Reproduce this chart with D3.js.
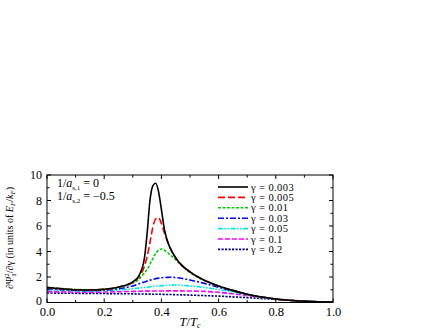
<!DOCTYPE html>
<html><head><meta charset="utf-8">
<script src="https://cdn.jsdelivr.net/npm/d3@7"></script>
<style>
html,body{margin:0;padding:0;background:#fff;}
text{font-family:"Liberation Serif","Times New Roman",serif;}
</style></head>
<body>
<script>
const tGrid = [0,0.05,0.1,0.15,0.2,0.25,0.3,0.32,0.34,0.35,0.36,0.37,0.38,0.39,0.40,0.41,0.42,0.43,0.45,0.47,0.5,0.55,0.6,0.65,0.7,0.8,0.9,1.0];
const g0003 = [1.18,1.08,1.0,0.98,1.04,1.22,1.62,2.05,3.4,5.4,8.0,9.15,9.35,8.7,7.3,5.8,4.9,4.3,3.5,2.95,2.4,1.75,1.3,0.95,0.65,0.28,0.1,0.03];
const g0005 = [1.18,1.08,1.0,0.98,1.03,1.2,1.58,1.95,2.8,3.6,4.7,5.9,6.55,6.65,6.2,5.5,4.85,4.3,3.5,2.95,2.4,1.75,1.3,0.95,0.65,0.28,0.1,0.03];
const g001  = [1.2,1.1,1.02,1.0,1.03,1.18,1.52,1.8,2.3,2.6,3.0,3.45,3.85,4.1,4.2,4.12,3.95,3.75,3.35,2.9,2.35,1.72,1.28,0.93,0.64,0.27,0.1,0.03];
const g003  = [1.1,1.02,0.96,0.95,0.98,1.08,1.3,1.45,1.6,1.68,1.75,1.82,1.87,1.91,1.94,1.96,1.97,1.98,1.96,1.9,1.76,1.5,1.2,0.9,0.63,0.27,0.1,0.03];
const g005  = [1.0,0.95,0.9,0.89,0.92,0.98,1.08,1.13,1.18,1.2,1.23,1.26,1.28,1.3,1.32,1.33,1.35,1.36,1.37,1.35,1.3,1.18,1.02,0.82,0.6,0.27,0.1,0.03];
const g01   = [0.86,0.84,0.82,0.81,0.82,0.84,0.87,0.88,0.89,0.89,0.9,0.9,0.9,0.9,0.9,0.91,0.91,0.91,0.91,0.91,0.9,0.87,0.8,0.68,0.54,0.27,0.1,0.03];
const g02   = [0.75,0.73,0.72,0.71,0.7,0.69,0.68,0.67,0.67,0.66,0.66,0.65,0.65,0.65,0.64,0.64,0.63,0.63,0.61,0.6,0.58,0.54,0.5,0.44,0.38,0.24,0.1,0.03];
const seriesNames = ["γ = 0.003","γ = 0.005","γ = 0.01","γ = 0.03","γ = 0.05","γ = 0.1","γ = 0.2"];
const seriesValues = [g0003,g0005,g001,g003,g005,g01,g02];
const colors = ["#000000","#ff0000","#00cc00","#0000ff","#00e5e5","#ff00ff","#000080"];
const dashes = ["none","7,3","3,1.5","6,2,2,2","5,1.5,1.5,1.5,1.5,1.5","5,2","2.2,1.3"];
const xTicks = [0,0.2,0.4,0.6,0.8,1.0];
const yTicks = [0,2,4,6,8,10];

const W=422,H=332;
const svg=d3.select("body").append("svg").attr("width",W).attr("height",H);
const x=d3.scaleLinear().domain([0,1]).range([47,333]);
const y=d3.scaleLinear().domain([0,10]).range([302.5,175]);

const line=d3.line().x(d=>x(d[0])).y(d=>y(d[1])).curve(d3.curveMonotoneX);
svg.append("clipPath").attr("id","c").append("rect").attr("x",47).attr("y",175).attr("width",286).attr("height",127.5);
const plot=svg.append("g").attr("clip-path","url(#c)");
seriesValues.slice().reverse().forEach((vals,ri)=>{
  const i=seriesValues.length-1-ri;
  plot.append("path").datum(tGrid.map((t,k)=>[t,vals[k]]))
    .attr("d",line).attr("fill","none").attr("stroke",colors[i])
    .attr("stroke-width",1.6).attr("stroke-dasharray",dashes[i]);
});

// frame
svg.append("rect").attr("x",47).attr("y",175).attr("width",286).attr("height",127.5)
  .attr("fill","none").attr("stroke","#000").attr("stroke-width",1);

// inward ticks on all sides
const xMinor=d3.range(0,1.0001,0.1);
const yMinor=d3.range(0,10.0001,1);
const ax=svg.append("g").attr("stroke","#000").attr("stroke-width",1);
xMinor.forEach(v=>{
  const major=Math.abs(v*5-Math.round(v*5))<1e-6;
  const L=major?4:2.5;
  ax.append("line").attr("x1",x(v)).attr("x2",x(v)).attr("y1",302.5).attr("y2",302.5-L);
  ax.append("line").attr("x1",x(v)).attr("x2",x(v)).attr("y1",175).attr("y2",175+L);
});
yMinor.forEach(v=>{
  const major=Math.round(v)%2===0;
  const L=major?4:2.5;
  ax.append("line").attr("x1",47).attr("x2",47+L).attr("y1",y(v)).attr("y2",y(v));
  ax.append("line").attr("x1",333).attr("x2",333-L).attr("y1",y(v)).attr("y2",y(v));
});
const xAxis=d3.axisBottom(x).tickValues(xTicks).tickSize(0).tickPadding(5).tickFormat(d3.format(".1f"));
const gx=svg.append("g").attr("transform","translate(0,302.5)").call(xAxis);
gx.select(".domain").remove();
gx.selectAll("text").attr("font-size","12.5px").attr("font-family","Liberation Serif").attr("fill","#000");
const yAxis=d3.axisLeft(y).tickValues(yTicks).tickSize(0).tickPadding(5).tickFormat(d3.format("d"));
const gy=svg.append("g").attr("transform","translate(47,0)").call(yAxis);
gy.select(".domain").remove();
gy.selectAll("text").attr("font-size","12px").attr("font-family","Liberation Serif").attr("fill","#000")
  .attr("dy",(d)=>d===0?"0.2em":"0.32em");

// x title
const xt=svg.append("text").attr("x",190).attr("y",326).attr("text-anchor","middle").attr("font-size","12.5px");
xt.append("tspan").attr("font-style","italic").text("T");
xt.append("tspan").text("/");
xt.append("tspan").attr("font-style","italic").text("T");
xt.append("tspan").attr("font-style","italic").attr("font-size","8px").attr("dy",2).text("c");

// y title
const yt=svg.append("text").attr("transform","translate(13,238) rotate(-90)").attr("text-anchor","middle").attr("font-size","10px");
yt.append("tspan").text("∂Ψ");
yt.append("tspan").attr("font-size","7px").attr("dy",-4).text("2");
yt.append("tspan").attr("font-size","7px").attr("dx",-3.5).attr("dy",7).text("1");
yt.append("tspan").attr("dy",-3).text("/∂γ (in units of ");
yt.append("tspan").attr("font-style","italic").text("E");
yt.append("tspan").attr("font-style","italic").attr("font-size","7px").attr("dy",2).text("F");
yt.append("tspan").attr("dy",-2).text("/");
yt.append("tspan").attr("font-style","italic").text("k");
yt.append("tspan").attr("font-style","italic").attr("font-size","7px").attr("dy",2).text("F");
yt.append("tspan").attr("dy",-2).text(")");

// annotation
const annLines=[["s,1","= 0"],["s,2","= −0.5"]];
annLines.forEach((a,i)=>{
  const t=svg.append("text").attr("x",57).attr("y",187+i*13).attr("font-size","12px");
  t.append("tspan").text("1/");
  t.append("tspan").attr("font-style","italic").text("a");
  t.append("tspan").attr("font-size","7px").attr("dy",2.5).text(a[0]);
  t.append("tspan").attr("dy",-2.5).text(" "+a[1]);
});

// legend
seriesNames.forEach((n,i)=>{
  const yy=187+i*10.4;
  svg.append("line").attr("x1",218).attr("x2",248).attr("y1",yy).attr("y2",yy)
    .attr("stroke",colors[i]).attr("stroke-width",1.6).attr("stroke-dasharray",dashes[i]);
  svg.append("text").attr("x",251).attr("y",yy+3.5).attr("font-size","10.5px")
    .attr("letter-spacing","0.4px").text(n);
});
</script>
</body></html>
